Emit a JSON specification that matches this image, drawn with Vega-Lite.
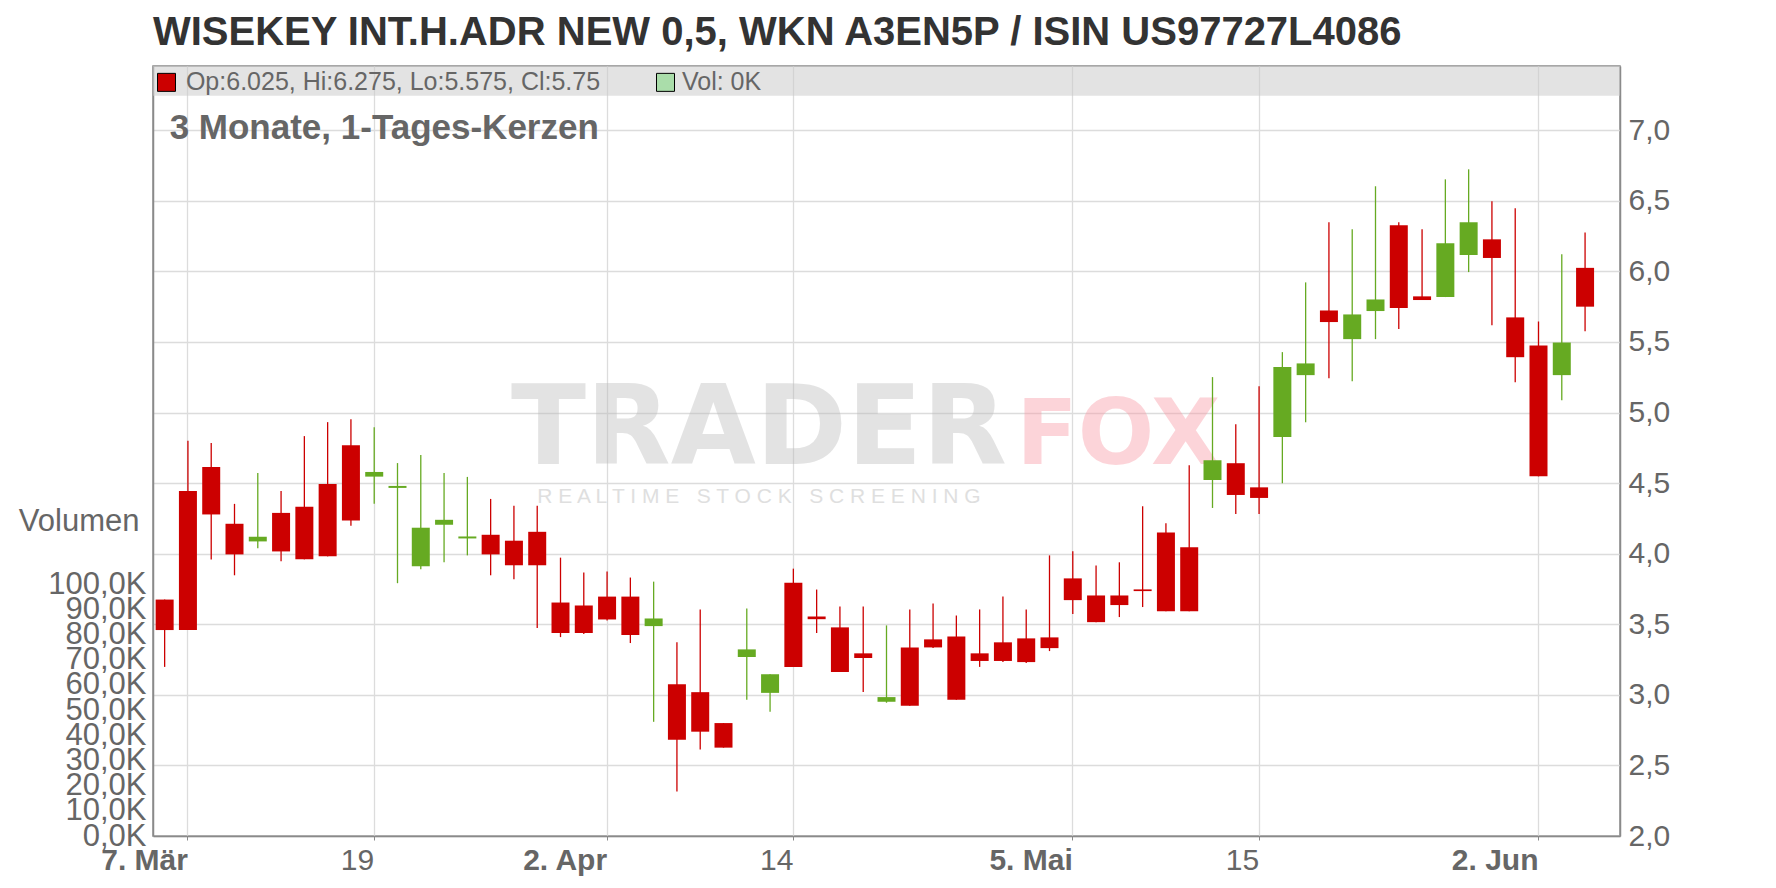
{
  "$schema": "https://vega.github.io/schema/vega-lite/v6.json",
  "width": 1467,
  "height": 770,
  "autosize": {"type": "none"},
  "padding": {"left": 153, "top": 66, "right": 156, "bottom": 52},
  "title": {
    "text": "WISEKEY INT.H.ADR NEW 0,5, WKN A3EN5P / ISIN US97727L4086",
    "anchor": "start",
    "frame": "group",
    "fontSize": 40,
    "fontWeight": "bold",
    "color": "#333333",
    "font": "Liberation Sans",
    "baseline": "alphabetic",
    "offset": 19,
    "dy": 38
  },
  "data": {
    "values": [
      {"date": "2025-03-06", "open": 3.675, "high": 3.675, "low": 3.198, "close": 3.459, "volume": 0},
      {"date": "2025-03-07", "open": 4.445, "high": 4.8, "low": 3.459, "close": 3.459, "volume": 0},
      {"date": "2025-03-10", "open": 4.614, "high": 4.784, "low": 3.958, "close": 4.278, "volume": 0},
      {"date": "2025-03-11", "open": 4.212, "high": 4.353, "low": 3.847, "close": 3.995, "volume": 0},
      {"date": "2025-03-12", "open": 4.087, "high": 4.572, "low": 4.038, "close": 4.12, "volume": 0},
      {"date": "2025-03-13", "open": 4.289, "high": 4.445, "low": 3.946, "close": 4.016, "volume": 0},
      {"date": "2025-03-14", "open": 4.332, "high": 4.833, "low": 3.96, "close": 3.96, "volume": 0},
      {"date": "2025-03-17", "open": 4.494, "high": 4.932, "low": 3.981, "close": 3.981, "volume": 0},
      {"date": "2025-03-18", "open": 4.769, "high": 4.953, "low": 4.198, "close": 4.235, "volume": 0},
      {"date": "2025-03-19", "open": 4.546, "high": 4.896, "low": 4.353, "close": 4.579, "volume": 0},
      {"date": "2025-03-20", "open": 4.466, "high": 4.642, "low": 3.791, "close": 4.48, "volume": 0},
      {"date": "2025-03-21", "open": 3.911, "high": 4.699, "low": 3.889, "close": 4.184, "volume": 0},
      {"date": "2025-03-24", "open": 4.205, "high": 4.572, "low": 3.939, "close": 4.24, "volume": 0},
      {"date": "2025-03-25", "open": 4.108, "high": 4.544, "low": 3.988, "close": 4.122, "volume": 0},
      {"date": "2025-03-26", "open": 4.134, "high": 4.388, "low": 3.847, "close": 3.995, "volume": 0},
      {"date": "2025-03-27", "open": 4.092, "high": 4.339, "low": 3.819, "close": 3.918, "volume": 0},
      {"date": "2025-03-28", "open": 4.155, "high": 4.339, "low": 3.473, "close": 3.918, "volume": 0},
      {"date": "2025-03-31", "open": 3.654, "high": 3.972, "low": 3.409, "close": 3.438, "volume": 0},
      {"date": "2025-04-01", "open": 3.633, "high": 3.866, "low": 3.431, "close": 3.438, "volume": 0},
      {"date": "2025-04-02", "open": 3.696, "high": 3.873, "low": 3.527, "close": 3.534, "volume": 0},
      {"date": "2025-04-03", "open": 3.696, "high": 3.831, "low": 3.367, "close": 3.424, "volume": 0},
      {"date": "2025-04-04", "open": 3.487, "high": 3.802, "low": 2.809, "close": 3.541, "volume": 0},
      {"date": "2025-04-07", "open": 3.075, "high": 3.372, "low": 2.315, "close": 2.682, "volume": 0},
      {"date": "2025-04-08", "open": 3.019, "high": 3.605, "low": 2.612, "close": 2.739, "volume": 0},
      {"date": "2025-04-09", "open": 2.8, "high": 2.8, "low": 2.626, "close": 2.626, "volume": 0},
      {"date": "2025-04-10", "open": 3.268, "high": 3.612, "low": 2.965, "close": 3.322, "volume": 0},
      {"date": "2025-04-11", "open": 3.014, "high": 3.146, "low": 2.88, "close": 3.146, "volume": 0},
      {"date": "2025-04-14", "open": 3.795, "high": 3.894, "low": 3.198, "close": 3.198, "volume": 0},
      {"date": "2025-04-15", "open": 3.555, "high": 3.746, "low": 3.438, "close": 3.536, "volume": 0},
      {"date": "2025-04-16", "open": 3.478, "high": 3.626, "low": 3.162, "close": 3.162, "volume": 0},
      {"date": "2025-04-17", "open": 3.294, "high": 3.626, "low": 3.021, "close": 3.261, "volume": 0},
      {"date": "2025-04-22", "open": 2.951, "high": 3.492, "low": 2.944, "close": 2.984, "volume": 0},
      {"date": "2025-04-23", "open": 3.336, "high": 3.605, "low": 2.922, "close": 2.922, "volume": 0},
      {"date": "2025-04-24", "open": 3.393, "high": 3.647, "low": 3.332, "close": 3.336, "volume": 0},
      {"date": "2025-04-25", "open": 3.414, "high": 3.562, "low": 2.965, "close": 2.965, "volume": 0},
      {"date": "2025-04-28", "open": 3.294, "high": 3.605, "low": 3.198, "close": 3.24, "volume": 0},
      {"date": "2025-04-29", "open": 3.372, "high": 3.696, "low": 3.233, "close": 3.24, "volume": 0},
      {"date": "2025-04-30", "open": 3.4, "high": 3.605, "low": 3.225, "close": 3.232, "volume": 0},
      {"date": "2025-05-02", "open": 3.407, "high": 3.988, "low": 3.31, "close": 3.331, "volume": 0},
      {"date": "2025-05-05", "open": 3.825, "high": 4.017, "low": 3.572, "close": 3.671, "volume": 0},
      {"date": "2025-05-06", "open": 3.704, "high": 3.917, "low": 3.515, "close": 3.515, "volume": 0},
      {"date": "2025-05-07", "open": 3.704, "high": 3.939, "low": 3.551, "close": 3.636, "volume": 0},
      {"date": "2025-05-08", "open": 3.747, "high": 4.336, "low": 3.622, "close": 3.735, "volume": 0},
      {"date": "2025-05-09", "open": 4.151, "high": 4.215, "low": 3.593, "close": 3.593, "volume": 0},
      {"date": "2025-05-12", "open": 4.045, "high": 4.626, "low": 3.593, "close": 3.593, "volume": 0},
      {"date": "2025-05-13", "open": 4.522, "high": 5.251, "low": 4.324, "close": 4.662, "volume": 0},
      {"date": "2025-05-14", "open": 4.641, "high": 4.917, "low": 4.281, "close": 4.416, "volume": 0},
      {"date": "2025-05-15", "open": 4.47, "high": 5.187, "low": 4.281, "close": 4.395, "volume": 0},
      {"date": "2025-05-16", "open": 4.827, "high": 5.428, "low": 4.499, "close": 5.322, "volume": 0},
      {"date": "2025-05-19", "open": 5.265, "high": 5.922, "low": 4.931, "close": 5.348, "volume": 0},
      {"date": "2025-05-20", "open": 5.723, "high": 6.348, "low": 5.243, "close": 5.641, "volume": 0},
      {"date": "2025-05-21", "open": 5.52, "high": 6.298, "low": 5.222, "close": 5.695, "volume": 0},
      {"date": "2025-05-22", "open": 5.719, "high": 6.603, "low": 5.52, "close": 5.801, "volume": 0},
      {"date": "2025-05-23", "open": 6.326, "high": 6.348, "low": 5.591, "close": 5.74, "volume": 0},
      {"date": "2025-05-26", "open": 5.823, "high": 6.298, "low": 5.797, "close": 5.797, "volume": 0},
      {"date": "2025-05-27", "open": 5.818, "high": 6.652, "low": 5.818, "close": 6.199, "volume": 0},
      {"date": "2025-05-28", "open": 6.116, "high": 6.723, "low": 5.995, "close": 6.348, "volume": 0},
      {"date": "2025-05-29", "open": 6.227, "high": 6.496, "low": 5.619, "close": 6.095, "volume": 0},
      {"date": "2025-05-30", "open": 5.674, "high": 6.447, "low": 5.215, "close": 5.392, "volume": 0},
      {"date": "2025-06-02", "open": 5.475, "high": 5.645, "low": 4.548, "close": 4.548, "volume": 0},
      {"date": "2025-06-03", "open": 5.265, "high": 6.121, "low": 5.087, "close": 5.496, "volume": 0},
      {"date": "2025-06-04", "open": 6.025, "high": 6.275, "low": 5.575, "close": 5.75, "volume": 0}
    ]
  },
  "layer": [
    {
      "layer": [
        {
          "data": {"values": [{}]},
          "mark": {"type": "text", "text": "TRADER", "font": "DejaVu Sans", "fontWeight": "bold", "fontSize": 110, "align": "left", "baseline": "alphabetic", "color": "#bbbbbb", "opacity": 0.4, "dx": -3},
          "encoding": {
            "x": {"datum": "2025-03-27", "type": "ordinal"},
            "y": {"datum": 4.635, "type": "quantitative"}
          }
        },
        {
          "data": {"values": [{}]},
          "mark": {"type": "text", "text": "FOX", "font": "DejaVu Sans", "fontWeight": "bold", "fontSize": 90, "align": "left", "baseline": "alphabetic", "color": "#fa96a2", "opacity": 0.4, "dx": -10},
          "encoding": {
            "x": {"datum": "2025-04-30", "type": "ordinal"},
            "y": {"datum": 4.635, "type": "quantitative"}
          }
        },
        {
          "data": {"values": [{}]},
          "mark": {"type": "text", "text": "R E A L T I M E\u00a0\u00a0\u00a0S T O C K\u00a0\u00a0\u00a0S C R E E N I N G", "fontSize": 21, "align": "left", "baseline": "alphabetic", "color": "#b0b0b0", "opacity": 0.4},
          "encoding": {
            "x": {"datum": "2025-03-28", "type": "ordinal"},
            "y": {"datum": 4.359, "type": "quantitative"}
          }
        },
        {
          "data": {"values": [{}]},
          "mark": {"type": "rect", "color": "#cccccc", "opacity": 0.55},
          "encoding": {
            "y": {"datum": 7.455, "type": "quantitative"},
            "y2": {"datum": 7.245}
          }
        },
        {
          "mark": {"type": "rule", "strokeWidth": 1.3},
          "encoding": {
            "x": {
              "field": "date",
              "type": "ordinal",
              "scale": {"type": "band", "paddingInner": 0, "paddingOuter": 0.5, "align": 0},
              "axis": {
                "title": null,
                "orient": "bottom",
                "values": ["2025-03-07", "2025-03-19", "2025-04-02", "2025-04-14", "2025-05-05", "2025-05-15", "2025-06-02"],
                "labelExpr": "datum.value == '2025-03-07' ? '7. Mär' : datum.value == '2025-03-19' ? '19' : datum.value == '2025-04-02' ? '2. Apr' : datum.value == '2025-04-14' ? '14' : datum.value == '2025-05-05' ? '5. Mai' : datum.value == '2025-05-15' ? '15' : '2. Jun'",
                "labelFontWeight": {"condition": {"test": "datum.value == '2025-03-19' || datum.value == '2025-04-14' || datum.value == '2025-05-15'", "value": "normal"}, "value": "bold"},
                "labelAngle": 0,
                "labelBaseline": "top",
                "labelFontSize": 30,
                "labelPadding": 5,
                "bandPosition": 0.5,
                "grid": true,
                "ticks": true,
                "tickSize": 4,
                "domain": true,
                "labelOverlap": false
              }
            },
            "y": {
              "field": "low",
              "type": "quantitative",
              "scale": {"domain": [2, 7.455], "nice": false, "zero": false},
              "axis": {
                "title": null,
                "orient": "right",
                "values": [2, 2.5, 3, 3.5, 4, 4.5, 5, 5.5, 6, 6.5, 7],
                "labelExpr": "replace(format(datum.value, '.1f'), '.', ',')",
                "labelFontSize": 30,
                "labelPadding": 8,
                "ticks": false,
                "domain": true,
                "grid": true,
                "labelFlush": false,
                "labelOverlap": false
              }
            },
            "y2": {"field": "high"},
            "color": {"condition": {"test": "datum.close < datum.open", "value": "#cc0000"}, "value": "#66aa22"}
          }
        },
        {
          "mark": {"type": "bar", "width": 18},
          "encoding": {
            "x": {"field": "date", "type": "ordinal"},
            "y": {"field": "open", "type": "quantitative"},
            "y2": {"field": "close"},
            "color": {"condition": {"test": "datum.close < datum.open", "value": "#cc0000"}, "value": "#66aa22"}
          }
        },
        {
          "data": {"values": [{}]},
          "mark": {"type": "point", "shape": "square", "size": 324, "filled": true, "fill": "#cc0000", "stroke": "#000000", "strokeWidth": 1, "opacity": 1},
          "encoding": {
            "x": {"datum": "2025-03-06", "type": "ordinal"},
            "xOffset": {"value": 13.5},
            "y": {"datum": 7.339, "type": "quantitative"}
          }
        },
        {
          "data": {"values": [{}]},
          "mark": {"type": "text", "text": "Op:6.025, Hi:6.275, Lo:5.575, Cl:5.75", "fontSize": 25, "align": "left", "baseline": "alphabetic", "color": "#666666", "dx": -2},
          "encoding": {
            "x": {"datum": "2025-03-07", "type": "ordinal"},
            "y": {"datum": 7.283, "type": "quantitative"}
          }
        },
        {
          "data": {"values": [{}]},
          "mark": {"type": "point", "shape": "square", "size": 324, "filled": true, "fill": "#aaddaa", "stroke": "#000000", "strokeWidth": 1, "opacity": 1},
          "encoding": {
            "x": {"datum": "2025-04-04", "type": "ordinal"},
            "xOffset": {"value": 23.5},
            "y": {"datum": 7.339, "type": "quantitative"}
          }
        },
        {
          "data": {"values": [{}]},
          "mark": {"type": "text", "text": "Vol: 0K", "fontSize": 25, "align": "left", "baseline": "alphabetic", "color": "#666666", "dx": 5},
          "encoding": {
            "x": {"datum": "2025-04-07", "type": "ordinal"},
            "y": {"datum": 7.283, "type": "quantitative"}
          }
        },
        {
          "data": {"values": [{}]},
          "mark": {"type": "text", "text": "3 Monate, 1-Tages-Kerzen", "fontSize": 35, "fontWeight": "bold", "align": "left", "baseline": "alphabetic", "color": "#666666", "dx": 5},
          "encoding": {
            "x": {"datum": "2025-03-06", "type": "ordinal"},
            "y": {"datum": 6.938, "type": "quantitative"}
          }
        }
      ]
    },
    {
      "mark": {"type": "bar", "width": 18, "color": "#aaddaa"},
      "encoding": {
        "x": {"field": "date", "type": "ordinal"},
        "y": {
          "field": "volume",
          "type": "quantitative",
          "scale": {"domain": [0, 305556], "nice": false, "zero": true},
          "axis": {
            "orient": "left",
            "title": "Volumen",
            "titleAngle": 0,
            "titleAlign": "right",
            "titleBaseline": "middle",
            "titleX": -14,
            "titleY": 455,
            "titleFontSize": 31,
            "titleFontWeight": "normal",
            "values": [0, 10000, 20000, 30000, 40000, 50000, 60000, 70000, 80000, 90000, 100000],
            "labelExpr": "replace(format(datum.value / 1000, '.1f'), '.', ',') + 'K'",
            "labelFontSize": 31,
            "labelPadding": 7,
            "ticks": false,
            "grid": false,
            "domain": true,
            "labelFlush": false,
            "labelOverlap": false
          }
        }
      }
    }
  ],
  "resolve": {"scale": {"y": "independent"}, "axis": {"y": "independent"}},
  "config": {
    "font": "Liberation Sans",
    "view": {"stroke": "#8a8a8a", "strokeWidth": 1.5},
    "axis": {
      "labelColor": "#666666",
      "titleColor": "#666666",
      "labelFont": "Liberation Sans",
      "titleFont": "Liberation Sans",
      "domainColor": "#8a8a8a",
      "domainWidth": 1.5,
      "tickColor": "#8a8a8a",
      "gridColor": "#dcdcdc",
      "gridWidth": 1.3
    }
  }
}
